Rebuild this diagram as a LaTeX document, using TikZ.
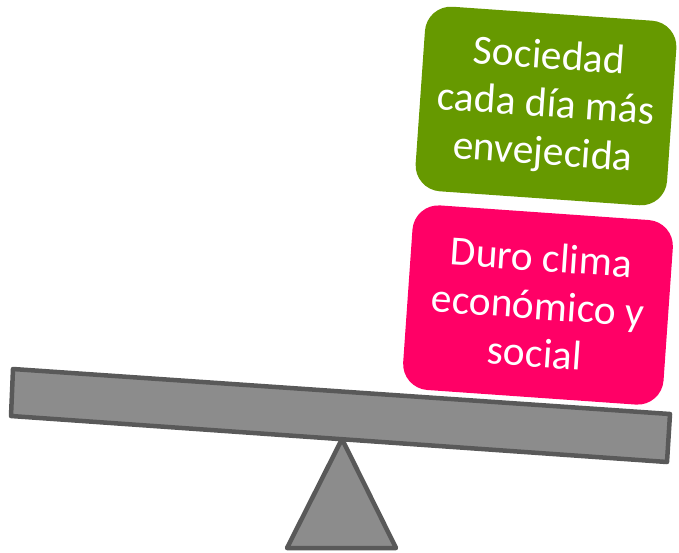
\documentclass[tikz,border=0pt]{standalone}
\usepackage{fontspec}
\setmainfont{Carlito}
\definecolor{boxgreen}{HTML}{669900}
\definecolor{boxpink}{HTML}{FF0066}
\definecolor{barfill}{HTML}{8C8C8C}
\definecolor{barline}{HTML}{595959}
\tikzset{
  card/.style={rectangle, rounded corners=26pt, inner sep=0pt, rotate=-4,
    minimum width=#1, minimum height=185pt, text=white, align=center,
    font=\fontsize{41.5}{48}\selectfont},
  beam/.style={fill=barfill, draw=barline, line width=4.5pt, line join=round}
}
\begin{document}
\begin{tikzpicture}[x=1pt,y=-1pt]
\useasboundingbox (0,0) rectangle (679,552);
% cards
\node[card=252pt, fill=boxgreen] (soc) at (546,106) {Sociedad\\cada día más\\envejecida};
\node[card=261pt, fill=boxpink] (duro) at (538,305) {Duro clima\\económico y\\social};
% fulcrum
\coordinate (apex) at (342,439);
\coordinate (bl) at (287,548);
\coordinate (br) at (396,548);
\draw[beam] (apex) -- (br) -- (bl) -- cycle;
% bar
\coordinate (b1) at (13,369);
\coordinate (b2) at (670,414);
\coordinate (b3) at (667,462);
\coordinate (b4) at (11,416);
\draw[beam] (b1) -- (b2) -- (b3) -- (b4) -- cycle;
\end{tikzpicture}
\end{document}
